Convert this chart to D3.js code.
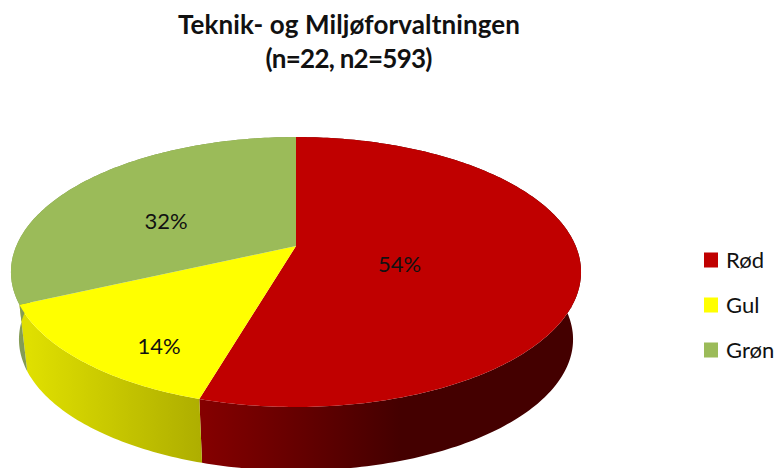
<!DOCTYPE html>
<html>
<head>
<meta charset="utf-8">
<script src="https://cdn.jsdelivr.net/npm/d3@7"></script>
<style>
  html, body { margin: 0; padding: 0; background: #fff; }
  svg { display: block; }
  text { font-family: Lato, "Open Sans", sans-serif; fill: #111; }
</style>
</head>
<body>
<div id="chart"></div>
<script>
// chart values, n=22 answers
var categories = ["Rød", "Gul", "Grøn"];
var values = [12, 3, 7];
var valueLabels = ["54%", "14%", "32%"];
var titleLines = ["Teknik- og Miljøforvaltningen", "(n=22, n2=593)"];

var topColors = ["#c00000", "#ffff00", "#9bbb59"];
// side wall shading, left colour then right colour
var sideColors = [["#850000", "#440000"], ["#dfdf00", "#adad00"], ["#879f58", "#7c934c"]];
var sideRanges = [[200, 400], [30, 205], [15, 40]];

var width = 776, height = 468;

var svg = d3.select("#chart").append("svg")
    .attr("width", width)
    .attr("height", height);

// tilted disc: unit circle projected with a bit of perspective
var cx = 296, k = 279.7, persp = -0.1926, ya = 82.6, yb = 246;
function project(a, r) {
  var u = r * Math.sin(a), v = -r * Math.cos(a);
  var d = 1 + persp * v;
  return [cx + k * u / d, (ya * v + yb) / d];
}
// the lower rim is further away, so slightly smaller
var shrink = 0.972, drop = 75;
function lower(p) {
  return [cx + (p[0] - cx) * shrink, p[1] * shrink + drop];
}

var pie = d3.pie().sort(null).value(function(d) { return d; });
var arcs = pie(values);
var line = d3.line();

function rim(d) {
  var n = Math.ceil((d.endAngle - d.startAngle) * 60);
  return d3.range(n + 1).map(function(i) {
    return project(d.startAngle + (d.endAngle - d.startAngle) * i / n, 1);
  });
}

// wall as small quads in one path, so the outline follows the tangent between the rims
function wall(d) {
  var top = rim(d);
  return d3.range(top.length - 1).map(function(i) {
    return line([top[i], top[i + 1], lower(top[i + 1]), lower(top[i])]) + "Z";
  }).join("");
}

var defs = svg.append("defs");
sideColors.forEach(function(c, i) {
  var g = defs.append("linearGradient")
      .attr("id", "side" + i)
      .attr("gradientUnits", "userSpaceOnUse")
      .attr("x1", sideRanges[i][0]).attr("x2", sideRanges[i][1])
      .attr("y1", 0).attr("y2", 0);
  g.append("stop").attr("offset", 0).attr("stop-color", c[0]);
  g.append("stop").attr("offset", 1).attr("stop-color", c[1]);
});

// side walls first, the top disc covers the hidden part
svg.append("g").selectAll("path")
    .data(arcs)
    .enter().append("path")
      .attr("d", wall)
      .attr("fill", function(d, i) { return "url(#side" + i + ")"; });

// top slices
svg.append("g").selectAll("path")
    .data(arcs)
    .enter().append("path")
      .attr("d", function(d) {
        return line([project(0, 0)].concat(rim(d))) + "Z";
      })
      .attr("fill", function(d, i) { return topColors[i]; });

// data labels, set by hand like the original
var labelX = [399.5, 159, 166], labelY = [272, 354, 229];
svg.append("g").selectAll("text")
    .data(valueLabels)
    .enter().append("text")
      .attr("x", function(d, i) { return labelX[i]; })
      .attr("y", function(d, i) { return labelY[i]; })
      .attr("text-anchor", "middle")
      .style("font-size", "22px")
      .text(function(d) { return d; });

// title
var titleWidths = [342, 167];
svg.append("g").selectAll("text")
    .data(titleLines)
    .enter().append("text")
      .attr("x", 349)
      .attr("y", function(d, i) { return 34 + i * 34; })
      .attr("text-anchor", "middle")
      .attr("textLength", function(d, i) { return titleWidths[i]; })
      .style("font-size", "26px")
      .style("font-weight", "700")
      .text(function(d) { return d; });

// legend
var legend = svg.append("g").selectAll("g")
    .data(categories)
    .enter().append("g")
      .attr("transform", function(d, i) { return "translate(704," + (259.5 + i * 45) + ")"; });

legend.append("rect")
    .attr("y", -7)
    .attr("width", 14)
    .attr("height", 15)
    .attr("fill", function(d, i) { return topColors[i]; });

legend.append("text")
    .attr("x", 22)
    .attr("y", 8.5)
    .style("font-size", "22px")
    .text(function(d) { return d; });
</script>
</body>
</html>
